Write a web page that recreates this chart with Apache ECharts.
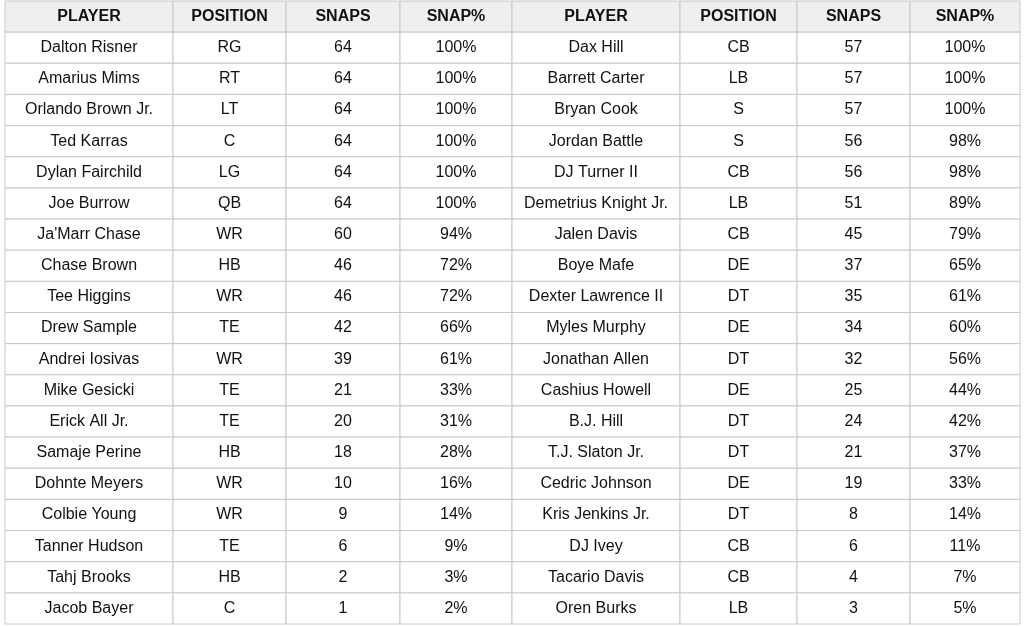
<!DOCTYPE html>
<html>
<head>
<meta charset="utf-8">
<script src="https://cdn.jsdelivr.net/npm/echarts@6/dist/echarts.min.js"></script>
<style>html,body{margin:0;padding:0;background:#fff}#main{width:1024px;height:626px}</style>
</head>
<body>
<div id="main"></div>
<script>
const headers = ['PLAYER', 'POSITION', 'SNAPS', 'SNAP%', 'PLAYER', 'POSITION', 'SNAPS', 'SNAP%'];
const offPlayers = ['Dalton Risner','Amarius Mims','Orlando Brown Jr.','Ted Karras','Dylan Fairchild','Joe Burrow',"Ja'Marr Chase",'Chase Brown','Tee Higgins','Drew Sample','Andrei Iosivas','Mike Gesicki','Erick All Jr.','Samaje Perine','Dohnte Meyers','Colbie Young','Tanner Hudson','Tahj Brooks','Jacob Bayer'];
const offPos = ['RG','RT','LT','C','LG','QB','WR','HB','WR','TE','WR','TE','TE','HB','WR','WR','TE','HB','C'];
const offSnaps = [64,64,64,64,64,64,60,46,46,42,39,21,20,18,10,9,6,2,1];
const offPct = [100,100,100,100,100,100,94,72,72,66,61,33,31,28,16,14,9,3,2];
const defPlayers = ['Dax Hill','Barrett Carter','Bryan Cook','Jordan Battle','DJ Turner II','Demetrius Knight Jr.','Jalen Davis','Boye Mafe','Dexter Lawrence II','Myles Murphy','Jonathan Allen','Cashius Howell','B.J. Hill','T.J. Slaton Jr.','Cedric Johnson','Kris Jenkins Jr.','DJ Ivey','Tacario Davis','Oren Burks'];
const defPos = ['CB','LB','S','S','CB','LB','CB','DE','DT','DE','DT','DE','DT','DT','DE','DT','CB','CB','LB'];
const defSnaps = [57,57,57,56,56,51,45,37,35,34,32,25,24,21,19,8,6,4,3];
const defPct = [100,100,100,98,98,89,79,65,61,60,56,44,42,37,33,14,11,7,5];

// layout: column edges on the x value axis
const colEdges = [0,168,281,395,507,675,792,905,1015];

const columns = [offPlayers, offPos, offSnaps, offPct.map(v => v + '%'),
                 defPlayers, defPos, defSnaps, defPct.map(v => v + '%')];
const rowCount = offPlayers.length + 1;
const cells = [];
headers.forEach((h, c) => cells.push([c, 0, h, 1]));
columns.forEach((col, c) => col.forEach((v, r) => cells.push([c, r + 1, String(v), 0])));

const chart = echarts.init(document.getElementById('main'));
chart.setOption({
  animation: false,
  grid: { left: 5, right: 4, top: 1, bottom: 2 },
  xAxis: { type: 'value', min: 0, max: 1015, show: false },
  yAxis: { type: 'category', inverse: true, show: false,
           data: Array.from({ length: rowCount }, (_, i) => i) },
  series: [{
    type: 'custom',
    data: cells,
    encode: { x: 0, y: 1 },
    renderItem: function (params, api) {
      const c = api.value(0), r = api.value(1);
      const p0 = api.coord([colEdges[c], r]);
      const p1 = api.coord([colEdges[c + 1], r]);
      const h = api.size([0, 1])[1];
      const head = api.value(3) === 1;
      return {
        type: 'group',
        children: [{
          type: 'rect',
          shape: { x: p0[0], y: p0[1] - h / 2, width: p1[0] - p0[0], height: h },
          style: { fill: head ? '#efefef' : '#fff', stroke: '#c8c8c8', lineWidth: 1 }
        }, {
          type: 'text',
          style: {
            x: (p0[0] + p1[0]) / 2, y: p0[1],
            text: cells[params.dataIndex][2],
            align: 'center', verticalAlign: 'middle',
            fontFamily: 'Liberation Sans, Arial, sans-serif',
            fontSize: 16, fontWeight: head ? 'bold' : 'normal', fill: '#111'
          }
        }]
      };
    }
  }]
});
</script>
</body>
</html>
